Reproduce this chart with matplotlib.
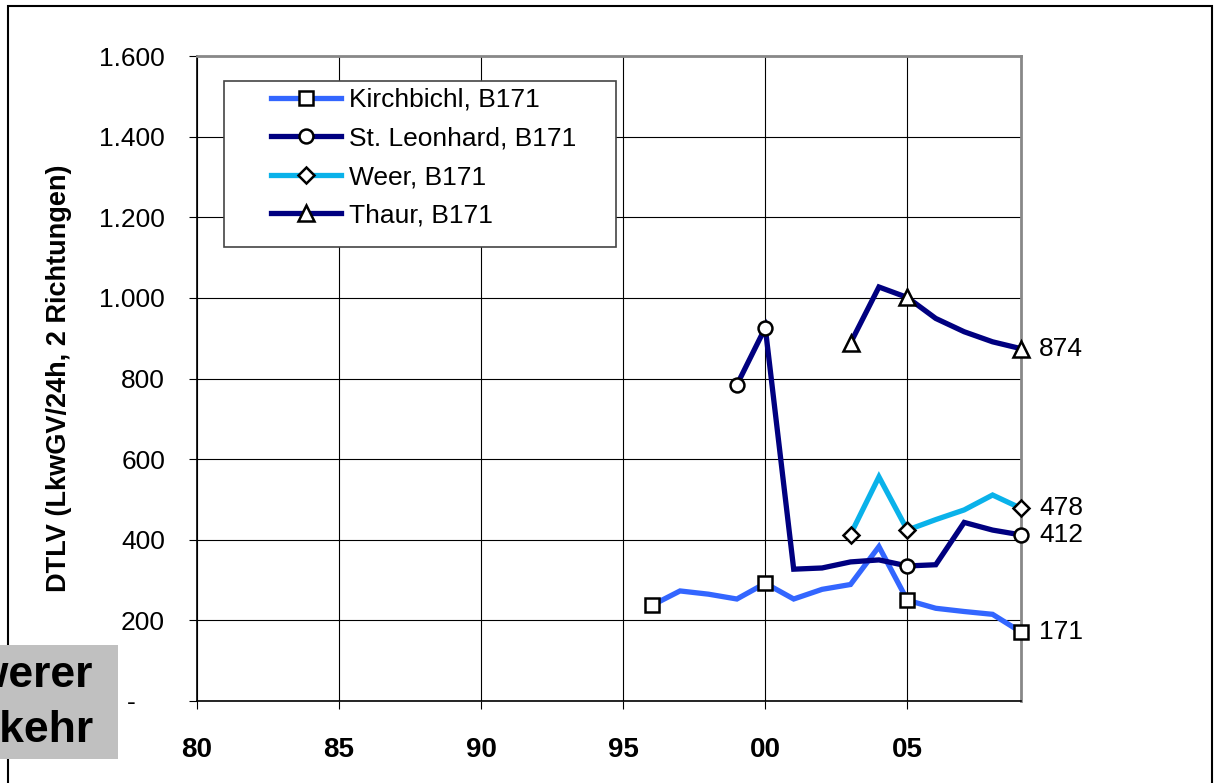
import numpy as np
import matplotlib.pyplot as plt
from matplotlib.patches import Rectangle
from matplotlib.ticker import FixedLocator, FuncFormatter

plt.rcParams['font.family'] = ['Liberation Sans', 'DejaVu Sans']

# DTLV values, heavy traffic on the B171
kirch_years = list(range(1996, 2010))
kirch_vals = [237, 273, 265, 253, 292, 253, 277, 289, 383, 250, 230, 222, 215, 171]

leon_years = list(range(1999, 2010))
leon_vals = [784, 926, 327, 330, 345, 350, 335, 338, 443, 424, 412]

weer_years = list(range(2003, 2010))
weer_vals = [413, 556, 424, 450, 474, 511, 478]

thaur_years = list(range(2003, 2010))
thaur_vals = [888, 1027, 1001, 949, 916, 891, 874]

series_names = ['Kirchbichl, B171', 'St. Leonhard, B171', 'Weer, B171', 'Thaur, B171']
x_ticks = [1980, 1985, 1990, 1995, 2000, 2005]
x_ticklabels = ['80', '85', '90', '95', '00', '05']
y_ticks = [0, 200, 400, 600, 800, 1000, 1200, 1400, 1600]

W, H = 1220, 783
fig = plt.figure(figsize=(W / 100, H / 100), dpi=100)
ax = fig.add_axes([197 / W, 1 - 701 / H, 824 / W, 645 / H])


def marker_idx(years):
    # symbols only on first point, 2000, 2005 and the last year
    return [i for i, y in enumerate(years)
            if i == 0 or i == len(years) - 1 or y in (2000, 2005)]


series = [
    (kirch_years, kirch_vals, '#3366FF', 's'),
    (leon_years, leon_vals, '#000080', 'o'),
    (weer_years, weer_vals, '#0AB2EA', 'D'),
    (thaur_years, thaur_vals, '#000080', '^'),
]
msizes = {'s': 10, 'o': 10, 'D': 8, '^': 12}

handles = []
for (yrs, vals, col, mk), name in zip(series, series_names):
    ln, = ax.plot(yrs, vals, color=col, lw=3.8, marker=mk, ms=msizes[mk],
                  mfc='white', mec='black', mew=1.8,
                  markevery=marker_idx(yrs), zorder=3, clip_on=False,
                  solid_joinstyle='miter', label=name)
    handles.append(ln)
    ax.annotate(f'{vals[-1]}', (yrs[-1], vals[-1]), xytext=(13, 0),
                textcoords='offset points', va='center', ha='left',
                fontsize=19, annotation_clip=False)

ax.set_xlim(1980, 2009)
ax.set_ylim(0, 1600)
ax.xaxis.set_major_locator(FixedLocator(x_ticks))
ax.set_xticklabels(x_ticklabels, fontweight='bold', fontsize=20)
ax.yaxis.set_major_locator(FixedLocator(y_ticks))
ax.yaxis.set_major_formatter(FuncFormatter(
    lambda v, p: '-    ' if v == 0 else f'{int(v):,}'.replace(',', '.')))
ax.tick_params(axis='y', labelsize=19, direction='out', length=6, pad=17)
ax.tick_params(axis='x', direction='out', length=6, pad=20)
ax.grid(True, color='black', lw=0.8)
ax.set_axisbelow(True)

for s in ('top', 'right'):
    ax.spines[s].set_color('#888888')
    ax.spines[s].set_linewidth(2)
for s in ('left', 'bottom'):
    ax.spines[s].set_color('black')
    ax.spines[s].set_linewidth(1.2)

ax.set_ylabel('DTLV (LkwGV/24h, 2 Richtungen)', fontsize=19.5, fontweight='bold')
ax.yaxis.set_label_coords((72 - 197) / 824, 0.5)

# legend box with wide side margins
ax.add_patch(Rectangle((27 / 824, (701 - 247) / 645), 392 / 824, 166 / 645,
                       transform=ax.transAxes, facecolor='white',
                       edgecolor='#444444', lw=1.2, zorder=4))
ax.legend(handles=handles, loc='upper left',
          bbox_to_anchor=((271 - 197) / 824, (701 - 88) / 645),
          frameon=False, fontsize=19, borderpad=0, borderaxespad=0,
          handlelength=2.65, handletextpad=0.3, labelspacing=0.55)

# outer frame of the figure
fig.patches.append(Rectangle((8 / W, -0.05), (1212 - 8) / W, 1.05 - 6 / H,
                             transform=fig.transFigure, fill=False,
                             edgecolor='black', lw=1.5))

# grey caption box at the lower left, text runs past the page edge
fig.patches.append(Rectangle((0, 1 - 759 / H), 118 / W, 114 / H,
                             transform=fig.transFigure, facecolor='#C0C0C0',
                             edgecolor='none', zorder=5))
fig.text(93 / W, 1 - 687 / H, 'Schwerer', ha='right', va='baseline',
         fontsize=32, fontweight='bold', zorder=6)
fig.text(94 / W, 1 - 742 / H, 'Verkehr', ha='right', va='baseline',
         fontsize=32, fontweight='bold', zorder=6)

fig.savefig('out.png', dpi=100)
